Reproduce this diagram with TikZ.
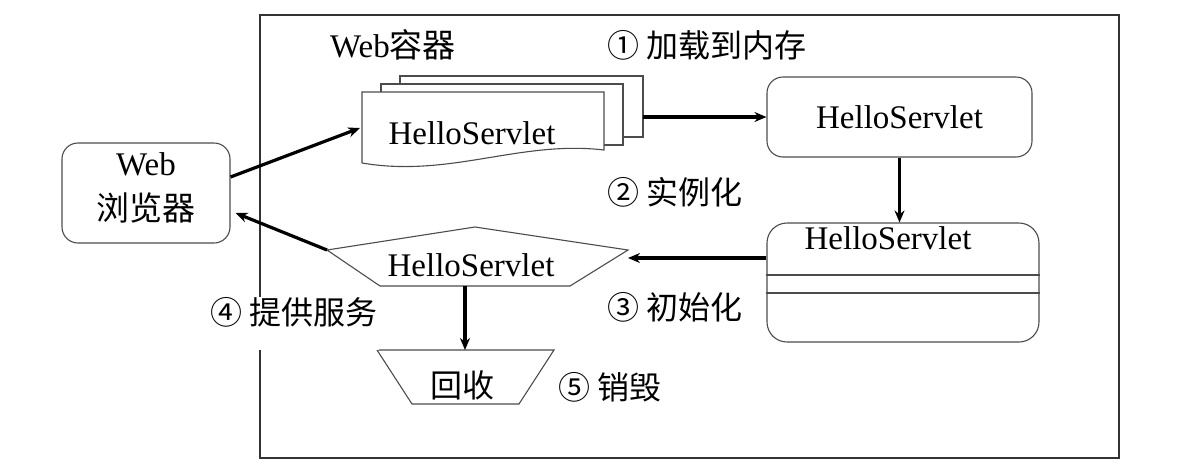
\documentclass[tikz,border=0pt]{standalone}
\usepackage{fontspec}
\setmainfont{Liberation Serif}
\newfontfamily\cjk{Noto Sans CJK SC}
\usetikzlibrary{arrows.meta}

\tikzset{
  outline/.style={draw=black!70, line width=1.1pt},
  roundbox/.style={outline, rounded corners=16pt, fill=white},
  arr/.style={line width=3.2pt, -{Stealth[length=12pt, width=10pt]}},
  txt/.style={font=\fontsize{33}{45}\selectfont, inner sep=0pt},
  lbl/.style={font=\fontsize{32}{44}\selectfont\cjk, inner sep=0pt},
}

\begin{document}
\begin{tikzpicture}[x=1pt, y=-1pt]
    \useasboundingbox (0,0) rectangle (1197,472);

    % draw web container
    \draw[line width=1.3pt, black!80] (260,15) rectangle (1119,458);
    \node[txt] (container) at (393,45) {Web{\cjk 容器}};

    % draw browser
    \node[roundbox, minimum width=168pt, minimum height=100pt] (browser) at (146,193) {};
    \node[txt, align=center] (browsername) at (146,187.5) {Web\\{\cjk 浏览器}};

    % draw stacked servlet pages
    \draw[outline, fill=white] (400,76) rectangle (643,137);
    \draw[outline, fill=white] (381,84) rectangle (623,145);
    \draw[outline, fill=white] (362,163) -- (362,92) -- (604,92) -- (604,150)
        .. controls (520,140) and (450,178) .. (362,163);
    \node[txt] (loaded) at (472,133) {HelloServlet};
    \coordinate (loadedW) at (360,128);
    \coordinate (stackE) at (643,117);

    % draw servlet in memory
    \node[roundbox, txt, minimum width=265pt, minimum height=80pt] (memory) at (899.5,117) {HelloServlet};

    % draw initialised servlet
    \node[roundbox, rounded corners=20pt, minimum width=272pt, minimum height=119pt] (init) at (903,282.5) {};
    \node[txt] (initname) at (888,238) {HelloServlet};
    \draw[outline] (init.west |- 0,275) -- (init.east |- 0,275);
    \draw[outline] (init.west |- 0,293) -- (init.east |- 0,293);

    % draw serving servlet
    \coordinate (serveW) at (327,250);
    \coordinate (serveE) at (628,250);
    \coordinate (serveS) at (465,286);
    \draw[outline, fill=white] (serveW) -- (475,227) -- (serveE) -- (570,286) -- (380,286) -- cycle;
    \node[txt] (serve) at (471,265) {HelloServlet};

    % draw recycling
    \coordinate (recycleN) at (465,350);
    \draw[outline] (377,350) -- (554,350) -- (519,404) -- (412,404) -- cycle;
    \node[lbl] (recycle) at (462,385) {回收};

    % draw step labels
    \node[lbl] (load) at (707,45) {① 加载到内存};
    \node[lbl] (create) at (675,192) {② 实例化};
    \node[lbl] (setup) at (675,307) {③ 初始化};
    \node[lbl, fill=white, inner xsep=1pt, text height=27pt, text depth=26pt, anchor=base] (service) at (294,324) {④ 提供服务};
    \node[lbl] (destroy) at (610,387) {⑤ 销毁};

    % draw arrows
    \draw[arr] ([yshift=16pt]browser.east) -- (loadedW);
    \draw[arr] (stackE) -- (memory.west);
    \draw[arr] (memory.south) -- (memory.south |- init.north);
    \draw[arr] ([yshift=24.5pt]init.west) -- ([yshift=24.5pt]init.west -| serveE);
    \draw[arr] (serveW) -- ([xshift=5pt, yshift=-20pt]browser.east);
    \draw[arr] (serveS) -- (recycleN);
\end{tikzpicture}
\end{document}
